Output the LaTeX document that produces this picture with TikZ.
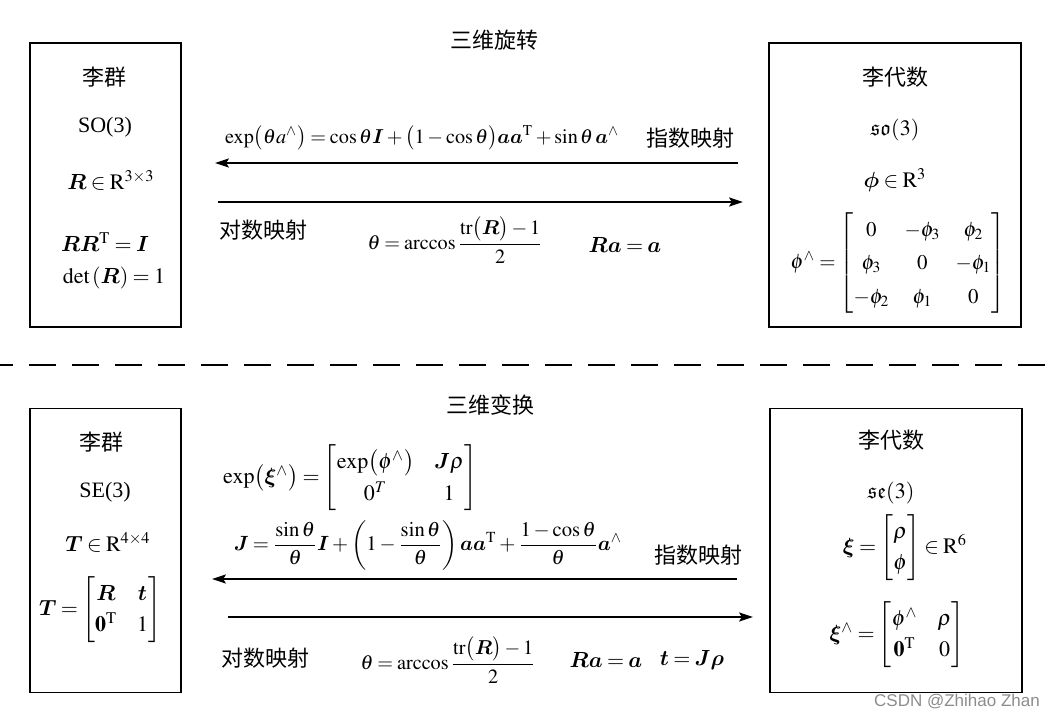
\documentclass[tikz,border=0pt]{standalone}
\usepackage{amsmath,amssymb,bm}
\usepackage{mathptmx}
\usepackage[no-math]{fontspec}
\setmainfont{Liberation Serif}
\newfontfamily\cjk{Noto Sans CJK SC}
\newfontfamily\wmfont{Liberation Sans}
\usetikzlibrary{arrows.meta}
\newcommand{\tightmath}{\thinmuskip=2mu\medmuskip=2.5mu plus 1mu\thickmuskip=3.5mu plus 1mu}

\begin{document}
\begin{tikzpicture}[x=0.5pt, y=-0.5pt, >={Stealth[length=7pt,width=4.6pt,inset=1.4pt]}]
        \tikzstyle{group}=[draw, line width=0.7pt, minimum width=75.5pt, minimum height=142pt, inner sep=0pt]
        \tikzstyle{algebra}=[draw, line width=0.7pt, minimum width=126pt, minimum height=142pt, inner sep=0pt]
        \tikzstyle{eq}=[font=\fontsize{11}{13}\selectfont\tightmath, inner sep=1pt]
        \tikzstyle{cn}=[font=\fontsize{11}{13}\selectfont\cjk, inner sep=1pt]
        \tikzstyle{map}=[line width=0.6pt]

        \useasboundingbox (0,0) rectangle (1051,717);

        % rotation
        \node[cn](rotTitle) at (494,40){三维旋转};
        \node[group](so3G) at (105.5,185){};
        \node[algebra](so3A) at (895,185){};

        \node[cn](lgTop) at (105,77){李群};
        \node[eq](SO3) at (105,127){SO(3)};
        \node[eq](Rin) at (111,180){$\bm{R}\in\mathrm{R}^{3\times3}$};
        \node[eq](RRT) at (105,242){$\bm{R}\bm{R}^{\mathrm{T}}=\bm{I}$};
        \node[eq](detR) at (114,278){$\det\left(\bm{R}\right)=1$};

        \node[cn](laTop) at (895,77){李代数};
        \node[eq](so3) at (895,130){$\mathfrak{so}(3)$};
        \node[eq](phiIn) at (895,180){$\bm{\phi}\in\mathrm{R}^3$};
        \node[eq, scale=0.95](phiHat) at (898,263){\setlength\arraycolsep{4pt}\renewcommand{\arraystretch}{1.35}$\phi^{\wedge}=\begin{bmatrix}0&-\phi_3&\phi_2\\ \phi_3&0&-\phi_1\\ -\phi_2&\phi_1&0\end{bmatrix}$};

        \coordinate (expTopS) at (738,163);
        \coordinate (expTopE) at (215,163);
        \coordinate (logTopS) at (218,202);
        \coordinate (logTopE) at (743,202);
        \draw[map,->] (expTopS) -- (expTopE);
        \draw[map,->] (logTopS) -- (logTopE);

        \node[eq, scale=0.92](expTop) at (422,138){$\exp\bigl(\theta a^{\wedge}\bigr)=\cos\theta\bm{I}+\bigl(1-\cos\theta\bigr)\bm{a}\bm{a}^{\mathrm{T}}+\sin\theta\,\bm{a}^{\wedge}$};
        \node[cn](expLblTop) at (690,138){指数映射};
        \node[cn](logLblTop) at (263,230){对数映射};
        \node[eq, scale=0.92](thetaTop) at (455,240){$\theta=\arccos\dfrac{\mathrm{tr}\bigl(\bm{R}\bigr)-1}{2}$};
        \node[eq](axisTop) at (625,245){$\bm{R}\bm{a}=\bm{a}$};

        % dashed separator
        \coordinate (sepL) at (0,365);
        \coordinate (sepR) at (1051,365);
        \draw[line width=1pt, dash pattern=on 13.5pt off 8pt, dash phase=7pt] (sepL) -- (sepR);

        % transformation
        \node[cn](trfTitle) at (490,405){三维变换};
        \node[group](se3G) at (105.5,550.5){};
        \node[algebra](se3A) at (896,550.5){};

        \node[cn](lgBot) at (101,442){李群};
        \node[eq](SE3) at (105,492){SE(3)};
        \node[eq](Tin) at (108,542){$\bm{T}\in\mathrm{R}^{4\times4}$};
        \node[eq](Tmat) at (100,610){\renewcommand{\arraystretch}{1.2}$\bm{T}=\begin{bmatrix}\bm{R}&\bm{t}\\ \mathbf{0}^{\mathrm{T}}&1\end{bmatrix}$};

        \node[cn](laBot) at (891,440){李代数};
        \node[eq](se3) at (891,493){$\mathfrak{se}(3)$};
        \node[eq](xiIn) at (905,548){\renewcommand{\arraystretch}{1.2}$\bm{\xi}=\begin{bmatrix}\rho\\ \phi\end{bmatrix}\in\mathrm{R}^6$};
        \node[eq](xiHat) at (897,635){\renewcommand{\arraystretch}{1.2}$\bm{\xi}^{\wedge}=\begin{bmatrix}\phi^{\wedge}&\rho\\ \mathbf{0}^{\mathrm{T}}&0\end{bmatrix}$};

        \coordinate (expBotS) at (737,579);
        \coordinate (expBotE) at (212,579);
        \coordinate (logBotS) at (228,617);
        \coordinate (logBotE) at (753,617);
        \draw[map,->] (expBotS) -- (expBotE);
        \draw[map,->] (logBotS) -- (logBotE);

        \node[eq](expBot) at (350,478){\renewcommand{\arraystretch}{1.25}$\exp\bigl(\bm{\xi}^{\wedge}\bigr)=\begin{bmatrix}\exp\bigl(\phi^{\wedge}\bigr)&\bm{J}\rho\\ 0^{T}&1\end{bmatrix}$};
        \node[eq, scale=0.94](Jac) at (428,545){$\bm{J}=\dfrac{\sin\theta}{\theta}\bm{I}+\left(1-\dfrac{\sin\theta}{\theta}\right)\bm{a}\bm{a}^{\mathrm{T}}+\dfrac{1-\cos\theta}{\theta}\bm{a}^{\wedge}$};
        \node[cn](expLblBot) at (698,555){指数映射};
        \node[cn](logLblBot) at (265,658){对数映射};
        \node[eq, scale=0.92](thetaBot) at (448,660){$\theta=\arccos\dfrac{\mathrm{tr}\bigl(\bm{R}\bigr)-1}{2}$};
        \node[eq](axisBot) at (606,660){$\bm{R}\bm{a}=\bm{a}$};
        \node[eq](transBot) at (692,660){$\bm{t}=\bm{J}\bm{\rho}$};

        \node[font=\fontsize{8.5}{10}\selectfont\wmfont, text=black!45](mark) at (957,702){CSDN @Zhihao Zhan};
\end{tikzpicture}
\end{document}
